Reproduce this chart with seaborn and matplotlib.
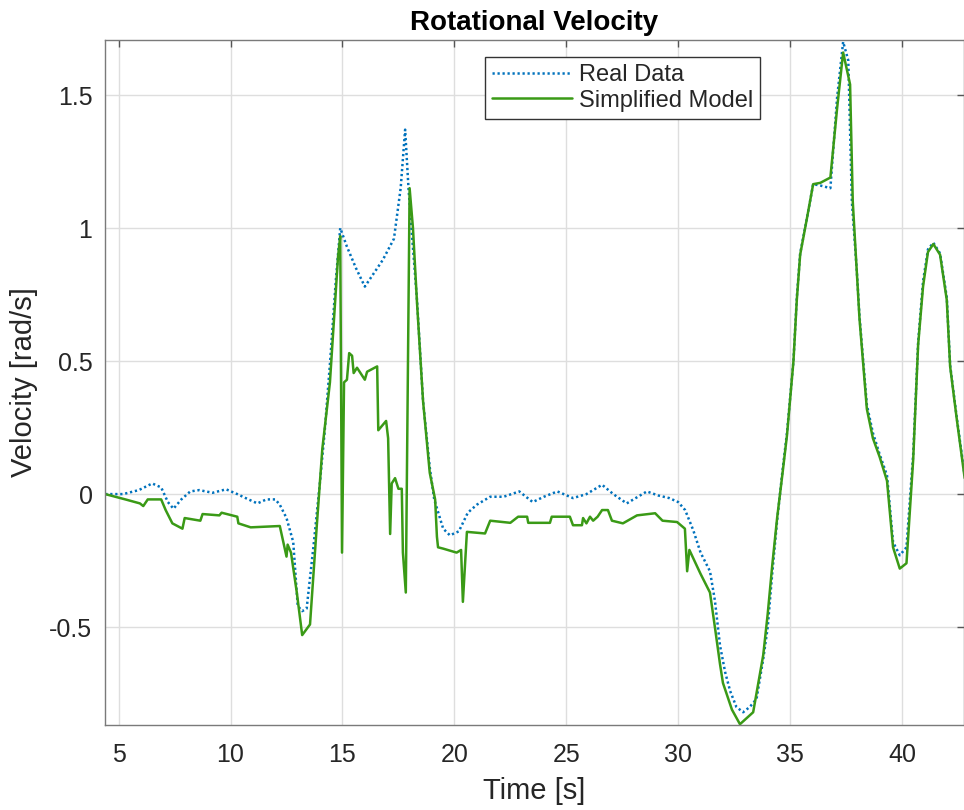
import matplotlib
matplotlib.use("Agg")
import matplotlib.pyplot as plt
import seaborn as sns
import pandas as pd

# ---- data ----
t_real = [4.4, 5.2, 5.9, 6.5, 6.9, 7.2, 7.45, 7.8, 8.2, 8.6, 9.2, 9.8, 10.3, 10.8, 11.2,
          11.6, 12.0, 12.2, 12.5, 12.8, 13.0, 13.2, 13.4, 13.7, 14.0, 14.2, 14.45, 14.7,
          14.9, 15.2, 15.6, 16.0, 16.4, 16.8, 17.3, 17.6, 17.8, 17.95, 18.1, 18.33, 18.6,
          18.9, 19.1, 19.5, 19.8, 20.2, 20.6, 21.0, 21.6, 22.2, 22.9, 23.5, 24.0, 24.6,
          25.3, 25.9, 26.6, 27.1, 27.7, 28.2, 28.6, 29.1, 29.6, 30.0, 30.31, 30.67, 31.0,
          31.42, 31.64, 31.87, 32.1, 32.32, 32.6, 32.9, 33.2, 33.5, 33.8, 34.0, 34.2, 34.42,
          34.65, 34.86, 35.15, 35.3, 35.45, 35.76, 36.03, 36.35, 36.8, 37.1, 37.37, 37.6,
          37.76, 37.98, 38.1, 38.43, 38.7, 39.0, 39.33, 39.6, 39.9, 40.2, 40.5, 40.72,
          40.94, 41.16, 41.4, 41.7, 42.0, 42.15, 42.45, 42.8]
v_real = [0.0, 0.0, 0.015, 0.04, 0.025, -0.03, -0.055, -0.02, 0.01, 0.015, 0.005, 0.018,
          0.0, -0.02, -0.035, -0.02, -0.02, -0.04, -0.09, -0.18, -0.42, -0.44, -0.43, -0.2,
          0.05, 0.23, 0.5, 0.8, 1.0, 0.93, 0.85, 0.78, 0.83, 0.88, 0.96, 1.15, 1.37, 1.15,
          0.98, 0.73, 0.35, 0.1, -0.02, -0.13, -0.155, -0.14, -0.07, -0.04, -0.01, -0.01,
          0.01, -0.03, -0.01, 0.01, -0.015, 0.0, 0.035, 0.0, -0.035, -0.01, 0.01, -0.005,
          -0.015, -0.03, -0.06, -0.135, -0.22, -0.29, -0.40, -0.57, -0.67, -0.74, -0.8,
          -0.82, -0.8, -0.77, -0.62, -0.5, -0.3, -0.1, 0.08, 0.23, 0.5, 0.74, 0.905, 1.04,
          1.165, 1.16, 1.15, 1.49, 1.70, 1.63, 1.1, 0.84, 0.67, 0.335, 0.23, 0.15, 0.07,
          -0.18, -0.23, -0.2, 0.15, 0.57, 0.8, 0.92, 0.945, 0.905, 0.74, 0.485, 0.285, 0.07]

t_model = [4.4, 5.3, 5.95, 6.1, 6.3, 6.9, 7.1, 7.4, 7.85, 7.95, 8.65, 8.75, 9.5, 9.6, 10.3,
           10.35, 10.9, 12.2, 12.5, 12.55, 12.7, 12.96, 13.2, 13.55, 13.86, 14.1, 14.44,
           14.8, 14.9, 14.98, 15.07, 15.2, 15.3, 15.43, 15.5, 15.65, 16.0, 16.1, 16.55,
           16.6, 16.95, 17.04, 17.13, 17.2, 17.35, 17.5, 17.65, 17.7, 17.83, 18.0, 18.15,
           18.33, 18.6, 18.9, 19.14, 19.22, 19.27, 19.5, 20.1, 20.3, 20.38, 20.56, 21.37,
           21.6, 22.5, 22.85, 23.25, 23.3, 24.27, 24.35, 25.16, 25.3, 25.7, 25.75, 25.9,
           26.06, 26.2, 26.4, 26.6, 26.86, 27.04, 27.53, 28.16, 28.97, 29.3, 29.95, 30.3,
           30.4, 30.5, 31.0, 31.42, 31.64, 31.87, 32.0, 32.4, 32.76, 33.35, 33.8, 34.0,
           34.2, 34.42, 34.65, 34.86, 35.15, 35.3, 35.45, 35.76, 36.03, 36.35, 36.8, 37.1,
           37.37, 37.68, 37.8, 37.98, 38.1, 38.43, 38.7, 39.0, 39.33, 39.6, 39.9, 40.2,
           40.5, 40.72, 40.94, 41.16, 41.4, 41.7, 42.0, 42.15, 42.45, 42.8]
v_model = [0.0, -0.02, -0.035, -0.045, -0.02, -0.02, -0.06, -0.11, -0.13, -0.09, -0.1,
           -0.075, -0.08, -0.07, -0.085, -0.11, -0.125, -0.12, -0.235, -0.19, -0.22, -0.37,
           -0.53, -0.49, -0.11, 0.17, 0.42, 0.89, 0.97, -0.22, 0.42, 0.43, 0.53, 0.52, 0.455,
           0.475, 0.43, 0.46, 0.48, 0.24, 0.275, 0.21, -0.15, 0.04, 0.06, 0.02, 0.02, -0.22,
           -0.37, 1.15, 1.0, 0.72, 0.35, 0.08, -0.02, -0.16, -0.2, -0.205, -0.22, -0.21,
           -0.405, -0.142, -0.148, -0.1, -0.108, -0.085, -0.085, -0.108, -0.108, -0.085,
           -0.085, -0.117, -0.117, -0.09, -0.11, -0.085, -0.1, -0.085, -0.06, -0.06, -0.1,
           -0.11, -0.08, -0.072, -0.1, -0.105, -0.13, -0.29, -0.21, -0.3, -0.37, -0.5,
           -0.64, -0.71, -0.81, -0.865, -0.82, -0.605, -0.45, -0.27, -0.09, 0.07, 0.22, 0.5,
           0.73, 0.9, 1.04, 1.165, 1.17, 1.19, 1.45, 1.66, 1.54, 1.1, 0.84, 0.66, 0.32,
           0.21, 0.14, 0.05, -0.2, -0.28, -0.26, 0.13, 0.56, 0.78, 0.91, 0.94, 0.9, 0.73,
           0.48, 0.28, 0.06]

series_names = ["Real Data", "Simplified Model"]
x_ticks = [5, 10, 15, 20, 25, 30, 35, 40]
y_ticks = [-0.5, 0, 0.5, 1, 1.5]
y_tick_labels = ["-0.5", "0", "0.5", "1", "1.5"]

df_real = pd.DataFrame({"t": t_real, "v": v_real, "series": series_names[0]})
df_model = pd.DataFrame({"t": t_model, "v": v_model, "series": series_names[1]})

sns.set_theme(style="white")
plt.rcParams["font.family"] = ["Liberation Sans", "DejaVu Sans"]
plt.rcParams["axes.unicode_minus"] = False

fig = plt.figure(figsize=(9.64, 8.10), dpi=100)
ax = fig.add_axes([105 / 964, 85 / 810, (964 - 105) / 964, 685 / 810])

blue = "#0072BD"
green = "#3A9A16"

sns.lineplot(data=df_real, x="t", y="v", ax=ax, sort=False, estimator=None,
             color=blue, linewidth=1.8, linestyle=(0, (0.9, 1.1)), label=series_names[0])
sns.lineplot(data=df_model, x="t", y="v", ax=ax, sort=False, estimator=None,
             color=green, linewidth=1.8, label=series_names[1])

ax.set_xlim(4.39, 42.77)
ax.set_ylim(-0.868, 1.707)
ax.set_xticks(x_ticks)
ax.set_xticklabels([str(v) for v in x_ticks])
ax.set_yticks(y_ticks)
ax.set_yticklabels(y_tick_labels)

ax.grid(True, color="#dedede", linewidth=1.0)
ax.set_axisbelow(True)
for side in ["left", "bottom", "top", "right"]:
    ax.spines[side].set_color("#7a7a7a")
    ax.spines[side].set_linewidth(1.0)

ax.tick_params(axis="both", direction="in", length=5, width=1.0, color="#555555",
               labelsize=18, labelcolor="#262626", top=True, right=True)
ax.tick_params(axis="x", pad=13)
ax.tick_params(axis="y", pad=9)

ax.set_xlabel("Time [s]", fontsize=21, color="#262626", labelpad=7)
ax.set_ylabel("Velocity [rad/s]", fontsize=21, color="#262626", labelpad=8)
ax.set_title("Rotational Velocity", fontsize=20, fontweight="bold", color="black", pad=7)

leg = ax.legend(loc="upper left", bbox_to_anchor=(0.442, 0.975), fontsize=17,
                frameon=True, fancybox=False, framealpha=1.0, edgecolor="#333333",
                borderpad=0.3, labelspacing=0.15, handlelength=3.4, handletextpad=0.3,
                borderaxespad=0.0)
leg.get_frame().set_linewidth(1.0)

fig.savefig("out.png", dpi=100)
